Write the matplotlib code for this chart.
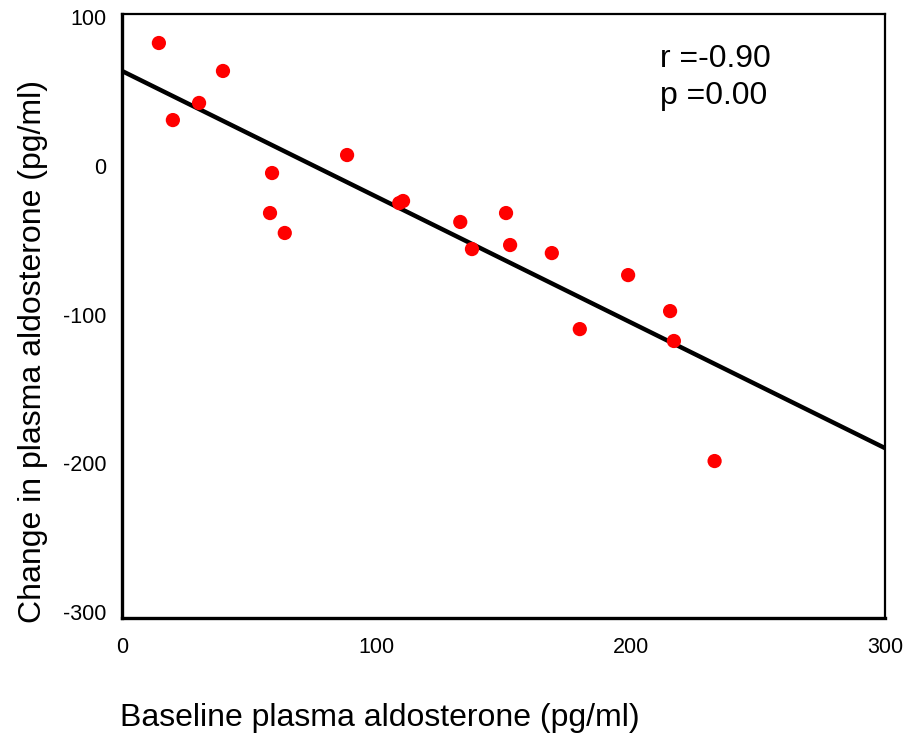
import matplotlib
matplotlib.use("Agg")
import matplotlib.pyplot as plt
import numpy as np

plt.rcParams['font.family'] = ['Liberation Sans', 'DejaVu Sans']
plt.rcParams['axes.unicode_minus'] = False

baseline = [14.5, 20, 30.3, 39.7, 59, 58.2, 64, 88.5, 109, 110.5,
            133, 137.6, 151, 152.6, 169, 180, 199, 215.5, 217, 233]
change = [82.5, 30.7, 42.2, 63.7, -4.9, -31.8, -45.2, 7.2, -25.1, -23.7,
          -37.8, -56, -31.8, -53.3, -58.7, -109.8, -73.5, -97.7, -117.8, -198.5]
fit_x = [0, 300]
fit_y = [63.7, -189.8]
x_ticks = [0, 100, 200, 300]
y_ticks = [-300, -200, -100, 0, 100]
stats_text = "r =-0.90\np =0.00"

fig = plt.figure(figsize=(9.07, 7.35), dpi=100)
ax = fig.add_axes([122/907, 1-618/735, (885-122)/907, (618-14)/735])

ax.plot(fit_x, fit_y, color='black', lw=3.2, zorder=2, solid_capstyle='butt')
ax.scatter(baseline, change, s=105, color='#ff0000', edgecolors='none', zorder=3)

ax.set_xlim(0, 300)
ax.set_ylim(-304, 102)
ax.set_xticks(x_ticks)
ax.set_yticks(y_ticks)
ax.tick_params(axis='both', length=0)
ax.tick_params(axis='x', labelsize=15.5, pad=14)
ax.tick_params(axis='y', labelsize=15.5, pad=11)

ax.spines['left'].set_linewidth(2.4)
ax.spines['bottom'].set_linewidth(2.4)
ax.spines['top'].set_linewidth(1.6)
ax.spines['right'].set_linewidth(1.6)

ax.set_xlabel("Baseline plasma aldosterone (pg/ml)", fontsize=23)
ax.set_ylabel("Change in plasma aldosterone (pg/ml)", fontsize=23)
ax.xaxis.label.set_va('center')
ax.yaxis.label.set_va('center')
ax.xaxis.set_label_coords(0.3375, -0.165)
ax.yaxis.set_label_coords(-0.117, 0.442)

ax.text(0.705, 0.9503, stats_text, transform=ax.transAxes, fontsize=23,
        va='top', ha='left', linespacing=1.29)

fig.savefig("out.png", dpi=100)
